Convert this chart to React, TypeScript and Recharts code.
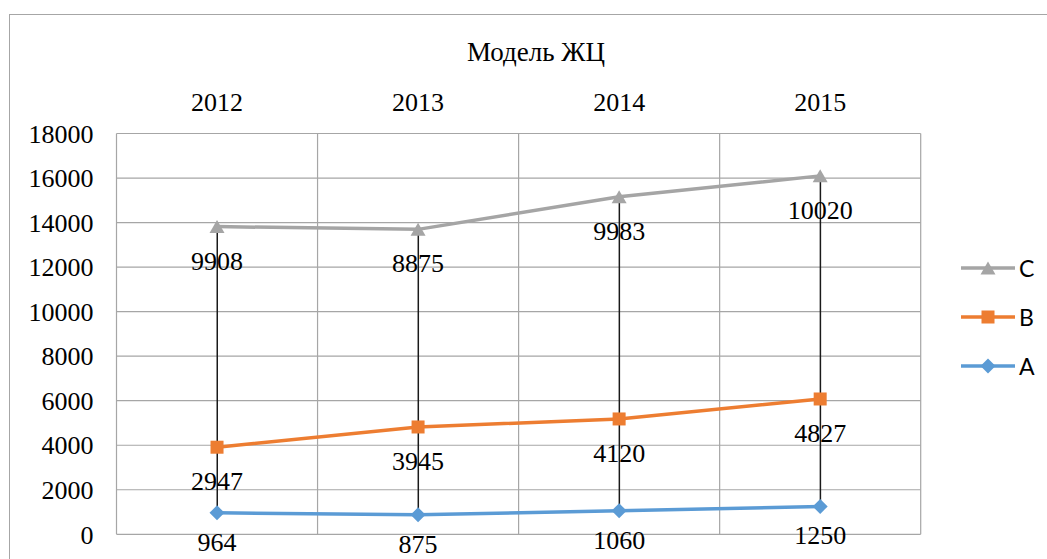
import React from 'react';
import {
  ComposedChart,
  Line,
  Bar,
  XAxis,
  YAxis,
  CartesianGrid,
  LabelList,
  Legend,
} from 'recharts';

const categories = ['2012', '2013', '2014', '2015'];
const seriesA = [964, 875, 1060, 1250];
const seriesB = [2947, 3945, 4120, 4827];
const seriesC = [9908, 8875, 9983, 10020];
const yTicks = [0, 2000, 4000, 6000, 8000, 10000, 12000, 14000, 16000, 18000];
const gridBoundaries = [0, 1, 2, 3, 4];
const title = 'Модель ЖЦ';

const COLORS: Record<string, string> = { sa: '#5B9BD5', sb: '#ED7D31', sc: '#A5A5A5' };
const NAMES: Record<string, string> = { sa: 'A', sb: 'B', sc: 'C' };

const data = categories.map((cat, i) => {
  const a = seriesA[i];
  const b = seriesB[i];
  const c = seriesC[i];
  return {
    cat,
    pos: i + 0.5,
    a,
    b,
    c,
    sa: a,
    sb: a + b,
    sc: a + b + c,
    hl: [a, a + b + c],
  };
});

const SERIF = '"Liberation Serif", "Times New Roman", serif';
const SANS = 'Lato, "Noto Sans", sans-serif';

const drawMarker = (key: string, cx: number, cy: number, color: string, k?: any) => {
  if (key === 'sc') {
    const s = 15;
    const h = 13;
    return (
      <polygon
        key={k}
        points={`${cx - s / 2},${cy + h / 2} ${cx + s / 2},${cy + h / 2} ${cx},${cy - h / 2}`}
        fill={color}
      />
    );
  }
  if (key === 'sb') {
    const s = 13;
    return <rect key={k} x={cx - s / 2} y={cy - s / 2} width={s} height={s} fill={color} />;
  }
  const r = 7.5;
  return (
    <polygon
      key={k}
      points={`${cx},${cy - r} ${cx + r},${cy} ${cx},${cy + r} ${cx - r},${cy}`}
      fill={color}
    />
  );
};

const makeDot = (key: string) => (props: any) => {
  const { cx, cy, index } = props;
  if (cx == null || cy == null) return <g key={`${key}-${index}`} />;
  return drawMarker(key, cx, cy, COLORS[key], `${key}-${index}`);
};

const makeLabel = (offset: number) => (props: any) => {
  const { x, y, value, index } = props;
  return (
    <text
      key={`lbl-${index}-${value}`}
      x={x}
      y={y + offset}
      textAnchor="middle"
      fontFamily={SERIF}
      fontSize={26}
      fill="#000"
    >
      {value}
    </text>
  );
};

const renderLegend = (props: any) => {
  const payload = (props.payload || []).filter((p: any) => COLORS[p.dataKey as string]);
  const items = [...payload].reverse();
  return (
    <div style={{ display: 'flex', flexDirection: 'column' }}>
      {items.map((p: any) => {
        const key = p.dataKey as string;
        const color = COLORS[key];
        return (
          <div key={key} style={{ height: 49, display: 'flex', alignItems: 'center' }}>
            <svg width={58} height={20} style={{ display: 'block' }}>
              <line x1={0} y1={10} x2={54} y2={10} stroke={color} strokeWidth={3.5} />
              {drawMarker(key, 27, 10, color)}
            </svg>
            <span
              style={{
                fontFamily: SANS,
                fontSize: 23,
                color: '#000',
                lineHeight: '23px',
              }}
            >
              {NAMES[key]}
            </span>
          </div>
        );
      })}
    </div>
  );
};

export default function App() {
  return (
    <div
      style={{
        position: 'absolute',
        left: 0,
        top: 0,
        width: 1047,
        height: 559,
        overflow: 'hidden',
        background: '#fff',
      }}
    >
      <div
        style={{
          position: 'absolute',
          left: 9,
          top: 14,
          width: 1100,
          height: 600,
          border: '1px solid #A6A6A6',
          boxSizing: 'border-box',
        }}
      />
      <div
        style={{
          position: 'absolute',
          left: 0,
          top: 36,
          width: 1072,
          textAlign: 'center',
          fontFamily: SERIF,
          fontSize: 27,
          lineHeight: '32px',
          color: '#000',
        }}
      >
        {title}
      </div>
      <div style={{ position: 'absolute', left: 0, top: 0 }}>
        <ComposedChart
          width={1047}
          height={559}
          data={data}
          margin={{ top: 103.5, right: 126.3, bottom: 24.7, left: 0 }}
        >
          <XAxis
            xAxisId="grid"
            dataKey="pos"
            type="number"
            domain={[0, 4]}
            allowDataOverflow
            ticks={gridBoundaries}
            interval={0}
            hide
          />
          <CartesianGrid xAxisId="grid" stroke="#A6A6A6" strokeWidth={1.2} />
          <XAxis
            dataKey="cat"
            orientation="top"
            height={30}
            axisLine={false}
            tickLine={false}
            tickMargin={17}
            tick={{ fontFamily: SERIF, fontSize: 26, fill: '#000' }}
          />
          <YAxis
            domain={[0, 18000]}
            ticks={yTicks}
            width={116.5}
            axisLine={false}
            tickLine={false}
            tickMargin={17}
            interval={0}
            tick={{ fontFamily: SERIF, fontSize: 26, fill: '#000' }}
          />
          <Line
            dataKey="sa"
            name="A"
            stroke={COLORS.sa}
            strokeWidth={3.5}
            dot={makeDot('sa')}
            activeDot={false}
            isAnimationActive={false}
          >
            <LabelList dataKey="a" content={makeLabel(38)} />
          </Line>
          <Line
            dataKey="sb"
            name="B"
            stroke={COLORS.sb}
            strokeWidth={3.5}
            dot={makeDot('sb')}
            activeDot={false}
            isAnimationActive={false}
          >
            <LabelList dataKey="b" content={makeLabel(43)} />
          </Line>
          <Line
            dataKey="sc"
            name="C"
            stroke={COLORS.sc}
            strokeWidth={3.5}
            dot={makeDot('sc')}
            activeDot={false}
            isAnimationActive={false}
          >
            <LabelList dataKey="c" content={makeLabel(43)} />
          </Line>
          <Bar
            dataKey="hl"
            barSize={1.5}
            fill="#1a1a1a"
            legendType="none"
            isAnimationActive={false}
          />
          <Legend
            layout="vertical"
            align="center"
            verticalAlign="middle"
            content={renderLegend}
            wrapperStyle={{ left: 961, top: 243.5, width: 90, height: 150 }}
          />
        </ComposedChart>
      </div>
    </div>
  );
}
